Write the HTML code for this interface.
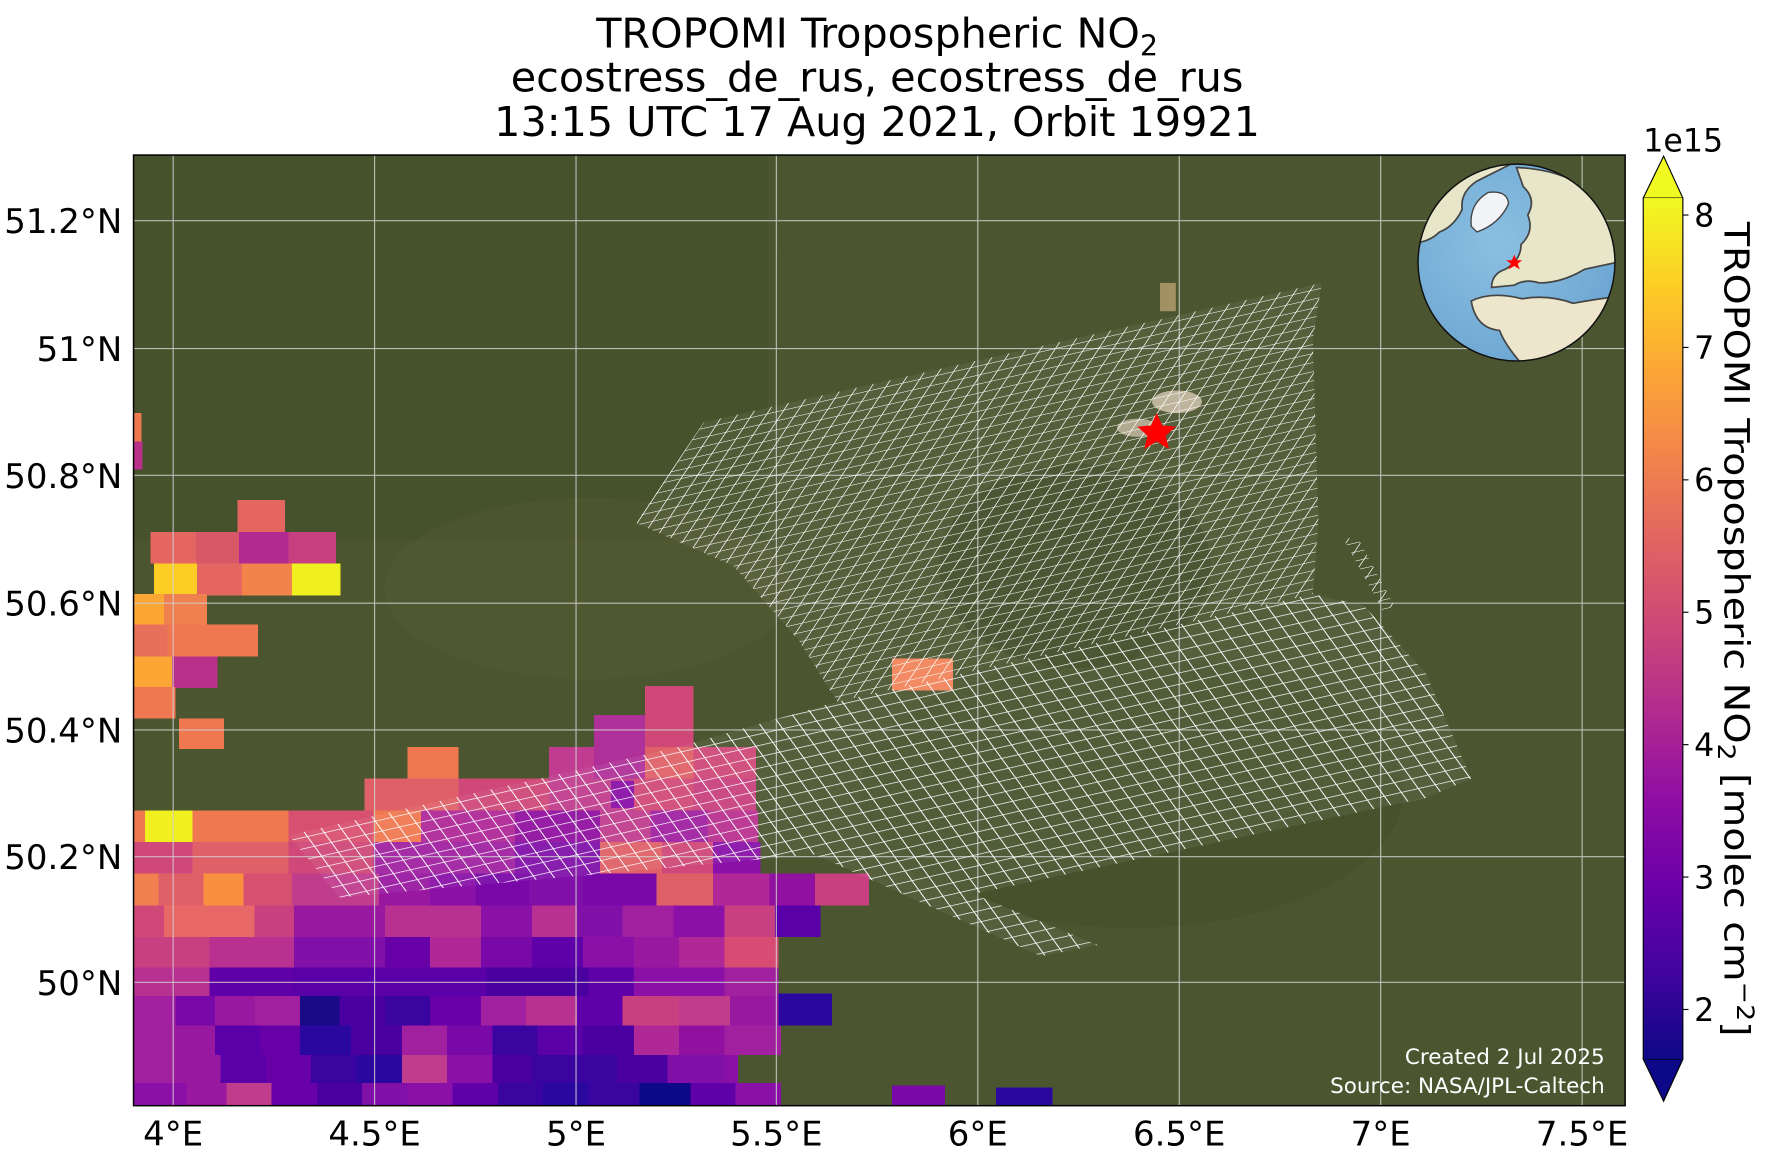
<!DOCTYPE html>
<html><head><meta charset="utf-8"><style>
html,body{margin:0;padding:0;background:#fff;}
svg{display:block;}
text{font-family:"DejaVu Sans","Liberation Sans",sans-serif;}
</style></head><body>
<svg width="1770" height="1153" viewBox="0 0 1770 1153" xmlns="http://www.w3.org/2000/svg">
<defs>
<linearGradient id="cb" x1="0" y1="1" x2="0" y2="0">
<stop offset="0" stop-color="#0d0887"/><stop offset="0.1" stop-color="#41049d"/><stop offset="0.2" stop-color="#6a00a8"/><stop offset="0.3" stop-color="#8f0da4"/><stop offset="0.4" stop-color="#b12a90"/><stop offset="0.5" stop-color="#cc4778"/><stop offset="0.6" stop-color="#e16462"/><stop offset="0.7" stop-color="#f2844b"/><stop offset="0.8" stop-color="#fca636"/><stop offset="0.9" stop-color="#fcce25"/><stop offset="1" stop-color="#f0f921"/>
</linearGradient>
<pattern id="m1" patternUnits="userSpaceOnUse" width="10" height="10" patternTransform="matrix(1.5 -0.34 0.62 -0.94 0 0)">
<path d="M0 0H10M0 0V10" stroke="#fff" stroke-width="1.2" fill="none"/></pattern>
<pattern id="m2" patternUnits="userSpaceOnUse" width="10" height="10" patternTransform="matrix(1.5 -0.34 0.62 0.86 0 0)">
<path d="M0 0H10M0 0V10" stroke="#fff" stroke-width="1.2" fill="none"/></pattern>
<radialGradient id="oc" cx="0.4" cy="0.4" r="0.7"><stop offset="0" stop-color="#8cc0e2"/><stop offset="1" stop-color="#6aa4d0"/></radialGradient>
<clipPath id="mapc"><rect x="118" y="137" width="1318" height="840"/></clipPath>
<clipPath id="gc"><circle cx="1340" cy="232" r="87"/></clipPath>
</defs>
<g transform="scale(1.13171)">
<g clip-path="url(#mapc)">
<rect x="118" y="137" width="1318" height="840" fill="#4b5630"/>
<rect x="118" y="137" width="560" height="340" fill="#3f4d28" opacity="0.5"/>
<ellipse cx="520" cy="520" rx="180" ry="80" fill="#5c5c34" opacity="0.35"/>
<ellipse cx="950" cy="500" rx="120" ry="90" fill="#34421f" opacity="0.45"/>
<ellipse cx="1000" cy="700" rx="240" ry="120" fill="#3e4a26" opacity="0.3"/>
<ellipse cx="1040" cy="355" rx="22" ry="10" fill="#d8c8b0" opacity="0.8"/>
<ellipse cx="1005" cy="378" rx="18" ry="8" fill="#d8c8b0" opacity="0.7"/>
<rect x="1025" y="250" width="14" height="25" fill="#b8a070" opacity="0.8"/>
<g shape-rendering="crispEdges">
<rect x="118" y="365" width="7" height="25" fill="#f07850"/><rect x="118" y="390" width="8" height="25" fill="#b8308a"/>
<rect x="210" y="442" width="42" height="29" fill="#e56660"/>
<rect x="133" y="470" width="40" height="28" fill="#e56660"/><rect x="173" y="470" width="38" height="28" fill="#d85868"/><rect x="211" y="470" width="44" height="28" fill="#b02a90"/><rect x="255" y="470" width="42" height="28" fill="#c84080"/>
<rect x="136" y="498" width="38" height="28" fill="#fcce25"/><rect x="174" y="498" width="40" height="28" fill="#e56660"/><rect x="214" y="498" width="44" height="28" fill="#f2844b"/><rect x="258" y="498" width="43" height="28" fill="#f0f021"/>
<rect x="118" y="525" width="27" height="28" fill="#fca636"/><rect x="145" y="525" width="38" height="28" fill="#f08050"/>
<rect x="118" y="552" width="30" height="28" fill="#e8705a"/><rect x="148" y="552" width="80" height="28" fill="#f07850"/>
<rect x="118" y="580" width="34" height="28" fill="#fca636"/><rect x="152" y="580" width="40" height="28" fill="#b8308a"/>
<rect x="118" y="607" width="37" height="28" fill="#f07850"/>
<rect x="158" y="635" width="40" height="27" fill="#f07850"/>
<rect x="788" y="582" width="54" height="28" fill="#f2845a"/>
<rect x="570" y="606" width="43" height="28" fill="#d04878"/>
<rect x="525" y="632" width="45" height="28" fill="#b0309a"/><rect x="570" y="632" width="43" height="28" fill="#d04878"/>
<rect x="360" y="660" width="45" height="28" fill="#f07850"/><rect x="485" y="660" width="40" height="28" fill="#c03c90"/><rect x="525" y="660" width="45" height="28" fill="#b0309a"/><rect x="570" y="660" width="43" height="28" fill="#e06068"/><rect x="613" y="660" width="55" height="28" fill="#d04878"/>
<rect x="322" y="688" width="83" height="28" fill="#e06068"/><rect x="405" y="688" width="80" height="28" fill="#d04878"/><rect x="485" y="688" width="75" height="28" fill="#c03c8c"/><rect x="540" y="690" width="40" height="24" fill="#8a10a8"/><rect x="560" y="688" width="53" height="28" fill="#d04a78"/><rect x="613" y="688" width="55" height="28" fill="#c84080"/>
<rect x="118" y="716" width="10" height="28" fill="#f07850"/><rect x="128" y="716" width="42" height="28" fill="#f0f020"/><rect x="170" y="716" width="85" height="28" fill="#f07850"/><rect x="255" y="716" width="75" height="28" fill="#d85070"/><rect x="330" y="716" width="42" height="28" fill="#f07850"/><rect x="372" y="716" width="83" height="28" fill="#b02898"/><rect x="455" y="716" width="75" height="28" fill="#9010a0"/><rect x="530" y="716" width="45" height="28" fill="#c03c8c"/><rect x="575" y="716" width="50" height="28" fill="#a020a0"/><rect x="625" y="716" width="45" height="28" fill="#b83090"/>
<rect x="118" y="744" width="52" height="28" fill="#d04878"/><rect x="170" y="744" width="85" height="28" fill="#e06068"/><rect x="255" y="744" width="75" height="28" fill="#d04878"/><rect x="330" y="744" width="125" height="28" fill="#a020a0"/><rect x="455" y="744" width="75" height="28" fill="#8010a8"/><rect x="530" y="744" width="55" height="28" fill="#e06068"/><rect x="585" y="744" width="45" height="28" fill="#d04878"/><rect x="630" y="744" width="42" height="28" fill="#8a10a8"/>
<rect x="118" y="772" width="22" height="28" fill="#f08050"/><rect x="140" y="772" width="40" height="28" fill="#e06068"/><rect x="180" y="772" width="35" height="28" fill="#f89040"/><rect x="215" y="772" width="43" height="28" fill="#d85070"/><rect x="258" y="772" width="77" height="28" fill="#c03c8c"/><rect x="335" y="772" width="45" height="28" fill="#9818a0"/><rect x="380" y="772" width="40" height="28" fill="#8a10a8"/><rect x="420" y="772" width="48" height="28" fill="#7a08a8"/><rect x="468" y="772" width="47" height="28" fill="#8010a8"/><rect x="515" y="772" width="65" height="28" fill="#7808a8"/><rect x="580" y="772" width="50" height="28" fill="#e06068"/><rect x="630" y="772" width="50" height="28" fill="#b02898"/><rect x="680" y="772" width="40" height="28" fill="#9010a0"/><rect x="720" y="772" width="48" height="28" fill="#c84080"/>
<rect x="118" y="800" width="27" height="28" fill="#d04878"/><rect x="145" y="800" width="80" height="28" fill="#e86868"/><rect x="225" y="800" width="35" height="28" fill="#c84080"/><rect x="260" y="800" width="80" height="28" fill="#9818a0"/><rect x="340" y="800" width="85" height="28" fill="#b83090"/><rect x="425" y="800" width="45" height="28" fill="#8a10a8"/><rect x="470" y="800" width="40" height="28" fill="#b83090"/><rect x="510" y="800" width="40" height="28" fill="#8010a8"/><rect x="550" y="800" width="45" height="28" fill="#a020a0"/><rect x="595" y="800" width="45" height="28" fill="#8a10a8"/><rect x="640" y="800" width="45" height="28" fill="#c84080"/><rect x="685" y="800" width="40" height="28" fill="#5a00a8"/>
<rect x="118" y="828" width="67" height="27" fill="#c84080"/><rect x="185" y="828" width="75" height="27" fill="#b83090"/><rect x="260" y="828" width="80" height="27" fill="#8010a8"/><rect x="340" y="828" width="40" height="27" fill="#6800a8"/><rect x="380" y="828" width="45" height="27" fill="#b02898"/><rect x="425" y="828" width="45" height="27" fill="#7808a8"/><rect x="470" y="828" width="45" height="27" fill="#6000a8"/><rect x="515" y="828" width="45" height="27" fill="#8a10a8"/><rect x="560" y="828" width="40" height="27" fill="#9818a0"/><rect x="600" y="828" width="40" height="27" fill="#b02898"/><rect x="640" y="828" width="48" height="27" fill="#d84c74"/>
<rect x="118" y="855" width="67" height="25" fill="#b83090"/><rect x="185" y="855" width="75" height="25" fill="#6000a8"/><rect x="260" y="855" width="170" height="25" fill="#5a00a8"/><rect x="430" y="855" width="90" height="25" fill="#4a00a0"/><rect x="520" y="855" width="40" height="25" fill="#6000a8"/><rect x="560" y="855" width="80" height="25" fill="#8a10a8"/><rect x="640" y="855" width="48" height="25" fill="#a020a0"/>
<rect x="118" y="880" width="37" height="26" fill="#a020a0"/><rect x="155" y="880" width="35" height="26" fill="#7808a8"/><rect x="190" y="880" width="35" height="26" fill="#9818a0"/><rect x="225" y="880" width="40" height="26" fill="#a020a0"/><rect x="265" y="880" width="35" height="26" fill="#1a0a88"/><rect x="300" y="880" width="40" height="26" fill="#4a00a0"/><rect x="340" y="880" width="40" height="26" fill="#3a04a0"/><rect x="380" y="880" width="45" height="26" fill="#6800a8"/><rect x="425" y="880" width="40" height="26" fill="#a020a0"/><rect x="465" y="880" width="45" height="26" fill="#b83090"/><rect x="510" y="880" width="40" height="26" fill="#6000a8"/><rect x="550" y="880" width="50" height="26" fill="#c84080"/><rect x="600" y="880" width="45" height="26" fill="#c03c8c"/><rect x="645" y="880" width="43" height="26" fill="#9818a0"/><rect x="688" y="878" width="47" height="28" fill="#2a08a0"/>
<rect x="118" y="906" width="37" height="26" fill="#a020a0"/><rect x="155" y="906" width="35" height="26" fill="#9818a0"/><rect x="190" y="906" width="40" height="26" fill="#5a00a8"/><rect x="230" y="906" width="35" height="26" fill="#6800a8"/><rect x="265" y="906" width="45" height="26" fill="#2a08a0"/><rect x="310" y="906" width="45" height="26" fill="#4a00a0"/><rect x="355" y="906" width="40" height="26" fill="#a020a0"/><rect x="395" y="906" width="40" height="26" fill="#7808a8"/><rect x="435" y="906" width="40" height="26" fill="#3a04a0"/><rect x="475" y="906" width="40" height="26" fill="#5a00a8"/><rect x="515" y="906" width="45" height="26" fill="#4a00a0"/><rect x="560" y="906" width="40" height="26" fill="#b02898"/><rect x="600" y="906" width="40" height="26" fill="#9010a0"/><rect x="640" y="906" width="50" height="26" fill="#a020a0"/>
<rect x="118" y="932" width="37" height="25" fill="#a020a0"/><rect x="155" y="932" width="40" height="25" fill="#9818a0"/><rect x="195" y="932" width="40" height="25" fill="#5a00a8"/><rect x="235" y="932" width="40" height="25" fill="#6800a8"/><rect x="275" y="932" width="40" height="25" fill="#3a04a0"/><rect x="315" y="932" width="40" height="25" fill="#2a08a0"/><rect x="355" y="932" width="40" height="25" fill="#c03c8c"/><rect x="395" y="932" width="40" height="25" fill="#8a10a8"/><rect x="435" y="932" width="35" height="25" fill="#4a00a0"/><rect x="470" y="932" width="75" height="25" fill="#3a04a0"/><rect x="545" y="932" width="45" height="25" fill="#4a00a0"/><rect x="590" y="932" width="50" height="25" fill="#8010a8"/><rect x="640" y="932" width="12" height="25" fill="#8a10a8"/>
<rect x="118" y="957" width="47" height="20" fill="#8a10a8"/><rect x="165" y="957" width="35" height="20" fill="#9818a0"/><rect x="200" y="957" width="40" height="20" fill="#c03c8c"/><rect x="240" y="957" width="40" height="20" fill="#6800a8"/><rect x="280" y="957" width="40" height="20" fill="#4a00a0"/><rect x="320" y="957" width="40" height="20" fill="#8010a8"/><rect x="360" y="957" width="40" height="20" fill="#8a10a8"/><rect x="400" y="957" width="40" height="20" fill="#6000a8"/><rect x="440" y="957" width="40" height="20" fill="#3a04a0"/><rect x="480" y="957" width="40" height="20" fill="#2a08a0"/><rect x="520" y="957" width="45" height="20" fill="#3a04a0"/><rect x="565" y="957" width="45" height="20" fill="#0c0888"/><rect x="610" y="957" width="40" height="20" fill="#6000a8"/><rect x="650" y="957" width="40" height="20" fill="#8a10a8"/>
<rect x="788" y="959" width="47" height="18" fill="#7808a8"/><rect x="880" y="961" width="50" height="16" fill="#2a08a0"/>
</g>
<g stroke="#d0d0d0" stroke-width="1" opacity="0.85">
<line x1="153" y1="137" x2="153" y2="977"/><line x1="331" y1="137" x2="331" y2="977"/><line x1="509" y1="137" x2="509" y2="977"/><line x1="686" y1="137" x2="686" y2="977"/><line x1="864" y1="137" x2="864" y2="977"/><line x1="1042" y1="137" x2="1042" y2="977"/><line x1="1220" y1="137" x2="1220" y2="977"/><line x1="1398" y1="137" x2="1398" y2="977"/>
<line x1="118" y1="195" x2="1436" y2="195"/><line x1="118" y1="308" x2="1436" y2="308"/><line x1="118" y1="420" x2="1436" y2="420"/><line x1="118" y1="533" x2="1436" y2="533"/><line x1="118" y1="645" x2="1436" y2="645"/><line x1="118" y1="757" x2="1436" y2="757"/><line x1="118" y1="868" x2="1436" y2="868"/>
</g>
<polygon points="562,462 622,373 1168,250 1160,300 1165,460 1160,525 740,620 705,565 648,500" fill="#fff" fill-opacity="0.06"/>
<polygon points="562,462 622,373 1168,250 1160,300 1165,460 1160,525 740,620 705,565 648,500" fill="url(#m1)"/>
<polygon points="255,738 600,660 740,620 1160,525 1205,535 1260,595 1300,688 1260,705 860,790 970,835 920,845 720,755 300,793" fill="#fff" fill-opacity="0.06"/>
<polygon points="255,738 600,660 740,620 1160,525 1205,535 1260,595 1300,688 1260,705 860,790 970,835 920,845 720,755 300,793" fill="url(#m2)"/>
<polygon points="1188,478 1198,472 1232,535 1222,540" fill="url(#m1)"/>
<polygon points="1022,365 1027,376 1039,377 1030,385 1033,397 1022,390 1011,397 1014,385 1005,377 1017,376" fill="#ff0000"/>
<g clip-path="url(#gc)">
<circle cx="1340" cy="232" r="87" fill="url(#oc)"/>
<path d="M1250 215 Q1255 175 1285 155 Q1310 146 1335 145 L1305 160 Q1290 170 1292 185 Q1285 200 1272 205 Q1265 212 1255 214 Z" fill="#e8e6c8" stroke="#444" stroke-width="1.5"/>
<path d="M1300 200 Q1298 180 1315 170 Q1332 168 1333 180 Q1325 198 1305 205 Z" fill="#f2f4f8" stroke="#444" stroke-width="1.2"/>
<path d="M1340 148 Q1390 150 1418 180 Q1428 205 1428 232 L1400 238 Q1380 250 1360 250 Q1348 246 1338 252 L1318 254 Q1318 242 1330 238 Q1344 230 1344 216 Q1356 205 1350 190 Q1358 176 1346 165 Z" fill="#e8e6c8" stroke="#444" stroke-width="1.5"/>
<path d="M1300 266 Q1318 257 1345 264 Q1368 260 1390 268 Q1412 264 1430 262 L1430 322 L1345 322 Q1330 305 1325 292 Q1304 290 1300 266 Z" fill="#ede6cc" stroke="#444" stroke-width="1.5"/>
</g>
<circle cx="1340" cy="232" r="87" fill="none" stroke="#111" stroke-width="1.3"/>
<polygon points="1338,225 1340,230 1345,230 1341,233 1343,238 1338,235 1333,238 1335,233 1331,230 1336,230" fill="#ff0000"/>
<text x="1418" y="940" font-size="19" fill="#fff" text-anchor="end">Created 2 Jul 2025</text>
<text x="1418" y="966" font-size="19" fill="#fff" text-anchor="end">Source: NASA/JPL-Caltech</text>
</g>
<rect x="118" y="137" width="1318" height="840" fill="none" stroke="#000" stroke-width="1.3"/>
<text x="775" y="42" font-size="36.5" text-anchor="middle">TROPOMI Tropospheric NO<tspan font-size="25" dy="7">2</tspan></text>
<text x="775" y="81" font-size="36.5" text-anchor="middle">ecostress_de_rus, ecostress_de_rus</text>
<text x="775" y="120" font-size="36.5" text-anchor="middle">13:15 UTC 17 Aug 2021, Orbit 19921</text>
<g font-size="30" text-anchor="end">
<text x="108" y="206">51.2°N</text><text x="108" y="319">51°N</text><text x="108" y="431">50.8°N</text><text x="108" y="544">50.6°N</text><text x="108" y="656">50.4°N</text><text x="108" y="768">50.2°N</text><text x="108" y="879">50°N</text>
</g>
<g font-size="30" text-anchor="middle">
<text x="153" y="1012">4°E</text><text x="331" y="1012">4.5°E</text><text x="509" y="1012">5°E</text><text x="686" y="1012">5.5°E</text><text x="864" y="1012">6°E</text><text x="1042" y="1012">6.5°E</text><text x="1220" y="1012">7°E</text><text x="1398" y="1012">7.5°E</text>
</g>
<polygon points="1452,175 1470,138 1487,175" fill="#f0f921" stroke="#000" stroke-width="1"/>
<polygon points="1452,936 1470,973 1487,936" fill="#0d0887" stroke="#000" stroke-width="1"/>
<rect x="1452" y="175" width="35" height="761" fill="url(#cb)"/>
<polyline points="1452,175 1452,936" stroke="#000" stroke-width="1" fill="none"/>
<polyline points="1487,175 1487,936" stroke="#000" stroke-width="1" fill="none"/>
<g stroke="#000" stroke-width="1">
<line x1="1487" y1="190" x2="1492" y2="190"/><line x1="1487" y1="307" x2="1492" y2="307"/><line x1="1487" y1="424" x2="1492" y2="424"/><line x1="1487" y1="541" x2="1492" y2="541"/><line x1="1487" y1="658" x2="1492" y2="658"/><line x1="1487" y1="775" x2="1492" y2="775"/><line x1="1487" y1="892" x2="1492" y2="892"/>
</g>
<g font-size="28">
<text x="1497" y="200">8</text><text x="1497" y="317">7</text><text x="1497" y="434">6</text><text x="1497" y="551">5</text><text x="1497" y="668">4</text><text x="1497" y="785">3</text><text x="1497" y="902">2</text>
</g>
<text x="1452" y="134" font-size="28">1e15</text>
<text transform="translate(1524,196) rotate(90)" font-size="31" textLength="720" lengthAdjust="spacingAndGlyphs">TROPOMI Tropospheric NO<tspan font-size="21" dy="6">2</tspan><tspan dy="-6"> [molec cm</tspan><tspan font-size="21" dy="-11">−2</tspan><tspan dy="11">]</tspan></text>
</g>
</svg>
</body></html>
